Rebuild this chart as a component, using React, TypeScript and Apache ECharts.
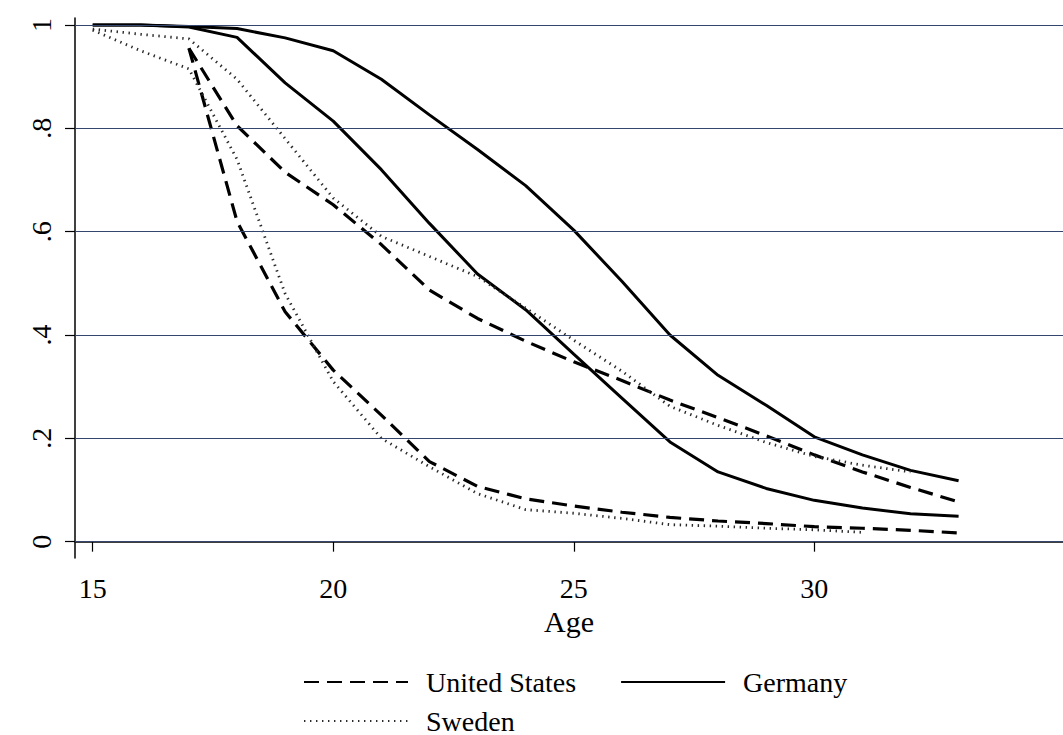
import React, { useEffect, useRef } from "react";
import * as echarts from "echarts";

const ages = [15, 16, 17, 18, 19, 20, 21, 22, 23, 24, 25, 26, 27, 28, 29, 30, 31, 32, 33];

const usUpper = [null, null, 0.955, 0.805, 0.715, 0.652, 0.575, 0.487, 0.432, 0.388, 0.348, 0.312, 0.274, 0.24, 0.205, 0.168, 0.135, 0.105, 0.077];
const usLower = [null, null, 0.955, 0.62, 0.445, 0.332, 0.245, 0.155, 0.107, 0.083, 0.069, 0.057, 0.047, 0.04, 0.035, 0.029, 0.026, 0.022, 0.017];
const germanyUpper = [1, 1, 0.997, 0.993, 0.975, 0.95, 0.895, 0.826, 0.759, 0.689, 0.603, 0.504, 0.4, 0.322, 0.264, 0.203, 0.168, 0.138, 0.118];
const germanyLower = [1, 1, 0.996, 0.976, 0.888, 0.814, 0.72, 0.616, 0.518, 0.449, 0.363, 0.278, 0.193, 0.135, 0.103, 0.08, 0.065, 0.054, 0.049];
const swedenUpper = [0.992, 0.982, 0.973, 0.895, 0.78, 0.665, 0.591, 0.552, 0.513, 0.452, 0.39, 0.33, 0.262, 0.225, 0.192, 0.165, 0.148, 0.135, null];
const swedenLower = [0.99, 0.95, 0.915, 0.74, 0.48, 0.31, 0.2, 0.145, 0.093, 0.062, 0.055, 0.045, 0.033, 0.03, 0.026, 0.023, 0.018, null, null];

const xTicks = [15, 20, 25, 30];
const yTicks = [0, 0.2, 0.4, 0.6, 0.8, 1];
const yTickLabels = ["0", ".2", ".4", ".6", ".8", "1"];

const FONT = "'Liberation Serif', 'Times New Roman', serif";

const toPairs = (vals: (number | null)[]) => ages.map((a, i) => [a, vals[i]]);

export default function App() {
  const ref = useRef<HTMLDivElement>(null);
  useEffect(() => {
    if (!ref.current) return;
    const chart = echarts.init(ref.current, undefined, { renderer: "svg" });
    const usStyle = { color: "#000", width: 3.2, type: [15, 8] as any };
    const deStyle = { color: "#000", width: 3, type: "solid" as any };
    const seStyle = { color: "#2a2a2a", width: 2.8, type: [1.4, 4.6] as any };
    const mk = (name: string, vals: (number | null)[], ls: any) => ({
      name,
      type: "line",
      data: toPairs(vals),
      showSymbol: false,
      symbol: "none",
      lineStyle: ls,
      itemStyle: { color: ls.color },
      z: 3,
      silent: true,
    });
    const legendCommon = {
      left: 303,
      padding: 0,
      itemWidth: 104,
      itemHeight: 14,
      itemStyle: { opacity: 0 },
      textStyle: { fontFamily: FONT, fontSize: 28, color: "#000", padding: [0, 0, 0, 13] },
      selectedMode: false,
    };
    chart.setOption({
      animation: false,
      backgroundColor: "#fff",
      textStyle: { fontFamily: FONT },
      grid: { left: 75, right: 0, top: 18, bottom: 177, containLabel: false },
      xAxis: {
        type: "value",
        min: 14.632,
        max: 35.17,
        name: "Age",
        nameLocation: "middle",
        nameGap: 48,
        nameTextStyle: { fontFamily: FONT, fontSize: 30, color: "#000" },
        axisLine: { show: true, lineStyle: { color: "#000", width: 1.5 } },
        axisTick: { show: true, length: 10, customValues: xTicks, lineStyle: { color: "#000", width: 1.2 } },
        axisLabel: {
          customValues: xTicks,
          margin: 16,
          fontFamily: FONT,
          fontSize: 28,
          color: "#000",
        },
        splitLine: { show: false },
      },
      yAxis: {
        type: "value",
        min: -0.0316,
        max: 1.0135,
        axisLine: { show: true, lineStyle: { color: "#000", width: 1.5 } },
        axisTick: { show: true, length: 10, customValues: yTicks, lineStyle: { color: "#000", width: 1.2 } },
        axisLabel: {
          customValues: yTicks,
          rotate: 90,
          margin: 20,
          fontFamily: FONT,
          fontSize: 28,
          color: "#000",
          formatter: (v: number) => {
            const i = yTicks.findIndex((t) => Math.abs(t - v) < 1e-6);
            return i >= 0 ? yTickLabels[i] : "";
          },
        },
        splitLine: { show: false },
      },
      legend: [
        { ...legendCommon, data: ["United States", "Germany"], top: 668, itemGap: 44 },
        { ...legendCommon, data: ["Sweden"], top: 707 },
      ],
      series: [
        {
          name: "grid",
          type: "line",
          data: [[15, null]],
          symbol: "none",
          lineStyle: { opacity: 0 },
          z: 1,
          silent: true,
          markLine: {
            silent: true,
            symbol: ["none", "none"],
            label: { show: false },
            lineStyle: { color: "#34466e", width: 1.2, type: "solid" },
            data: yTicks.map((t) => ({ yAxis: t })),
          },
        },
        mk("United States", usUpper, usStyle),
        mk("United States", usLower, usStyle),
        mk("Germany", germanyUpper, deStyle),
        mk("Germany", germanyLower, deStyle),
        mk("Sweden", swedenUpper, seStyle),
        mk("Sweden", swedenLower, seStyle),
      ],
    });
    return () => chart.dispose();
  }, []);
  return <div ref={ref} style={{ width: 1063, height: 735, position: "absolute", left: 0, top: 0 }} />;
}
